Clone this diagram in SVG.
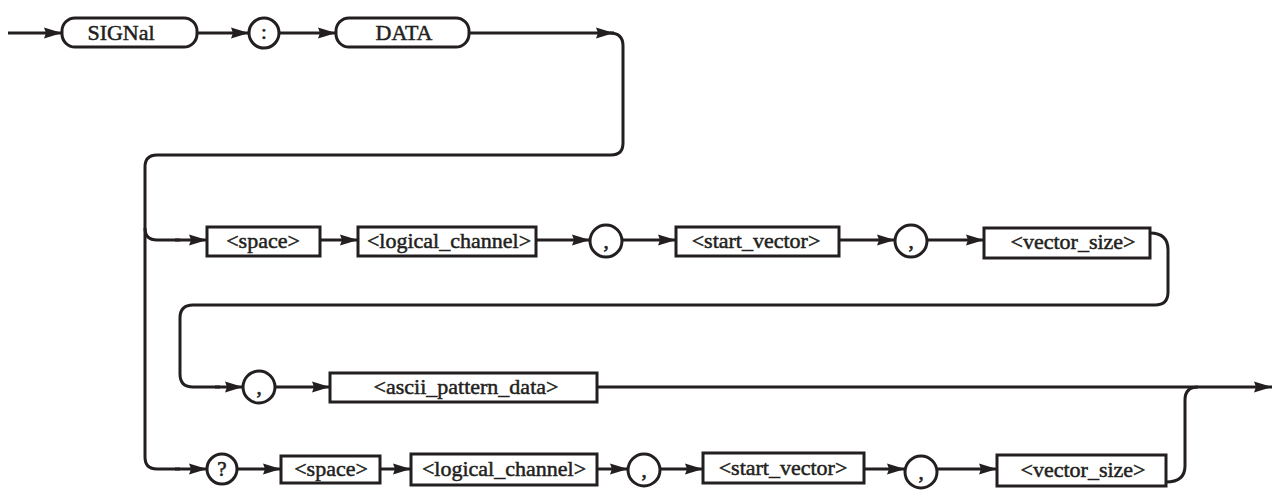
<svg xmlns="http://www.w3.org/2000/svg" width="1279" height="500" viewBox="0 0 1279 500">
<defs>
<marker id="ah" markerUnits="userSpaceOnUse" markerWidth="20" markerHeight="12" refX="18" refY="6" orient="auto">
<path d="M0,0.5 L18,6 L0,11.5 L2,6 Z" fill="#231f20"/>
</marker>
</defs>
<style>
.ln{fill:none;stroke:#231f20;stroke-width:3}
.ar{fill:none;stroke:#231f20;stroke-width:3;marker-end:url(#ah)}
.bx{fill:#fff;stroke:#231f20;stroke-width:3}
.t{font-family:"Liberation Serif",serif;font-size:22px;fill:#231f20;stroke:#231f20;stroke-width:0.5;text-anchor:middle}
.c{font-family:"Liberation Serif",serif;font-size:21px;fill:#231f20;stroke:#231f20;stroke-width:0.6;text-anchor:middle}
</style>
<rect width="1279" height="500" fill="#fff"/>
<g id="connectors">
<path class="ar" d="M8,33 H62"/>
<path class="ar" d="M197,33 H249"/>
<path class="ar" d="M279,33 H336"/>
<path class="ar" d="M469,33 H614"/>
<path class="ln" d="M610,33 Q623,33 623,46 V143 Q623,155 611,155 H157 Q145,155 145,167 V457 Q145,469 157,469 H180"/>
<path class="ar" d="M175,469 H207"/>
<path class="ln" d="M145,228 Q145,240 157,240 H180"/>
<path class="ar" d="M175,240 H207"/>
<path class="ar" d="M320,240 H358"/>
<path class="ar" d="M536,240 H590"/>
<path class="ar" d="M622,240 H676"/>
<path class="ar" d="M839,240 H895"/>
<path class="ar" d="M927,240 H984"/>
<path class="ln" d="M1150,233 Q1168,233 1168,250 V292 Q1168,305 1155,305 H193 Q180,305 180,318 V374 Q180,387 193,387 H220"/>
<path class="ar" d="M215,387 H243"/>
<path class="ar" d="M275,387 H330"/>
<path class="ar" d="M597,387 H1272"/>
<path class="ar" d="M237,469 H281"/>
<path class="ar" d="M380,469 H411"/>
<path class="ar" d="M597,469 H628"/>
<path class="ar" d="M660,469 H703"/>
<path class="ar" d="M864,469 H905"/>
<path class="ar" d="M937,469 H997"/>
<path class="ln" d="M1166,482 Q1185,482 1185,466 V400 Q1185,387 1198,387"/>
</g>
<g id="signal"><rect class="bx" x="62" y="18" width="135" height="29" rx="13"/><text class="t" x="121" y="40">SIGNal</text></g>
<g id="colon"><circle class="bx" cx="264" cy="33" r="15"/><text class="c" x="264" y="39">:</text></g>
<g id="data"><rect class="bx" x="336" y="18" width="133" height="29" rx="13"/><text class="t" x="404" y="40">DATA</text></g>
<g id="space1"><rect class="bx" x="207" y="227" width="113" height="29"/><text class="t" x="263" y="248">&lt;space&gt;</text></g>
<g id="logical1"><rect class="bx" x="358" y="227" width="178" height="29"/><text class="t" x="449" y="248">&lt;logical_channel&gt;</text></g>
<g id="comma1"><circle class="bx" cx="606" cy="241" r="16"/><text class="c" x="606" y="248">,</text></g>
<g id="start1"><rect class="bx" x="676" y="227" width="163" height="29"/><text class="t" x="756" y="248">&lt;start_vector&gt;</text></g>
<g id="comma2"><circle class="bx" cx="911" cy="241" r="16"/><text class="c" x="911" y="248">,</text></g>
<g id="vsize1"><rect class="bx" x="984" y="228" width="166" height="30"/><text class="t" x="1073" y="249">&lt;vector_size&gt;</text></g>
<g id="comma3"><circle class="bx" cx="259" cy="387" r="16"/><text class="c" x="259" y="394">,</text></g>
<g id="ascii"><rect class="bx" x="330" y="373" width="267" height="29"/><text class="t" x="466" y="394">&lt;ascii_pattern_data&gt;</text></g>
<g id="query"><circle class="bx" cx="222" cy="469" r="15"/><text class="c" x="222" y="476">?</text></g>
<g id="space2"><rect class="bx" x="281" y="456" width="99" height="27"/><text class="t" x="331" y="476">&lt;space&gt;</text></g>
<g id="logical2"><rect class="bx" x="411" y="454" width="186" height="31"/><text class="t" x="504" y="476">&lt;logical_channel&gt;</text></g>
<g id="comma4"><circle class="bx" cx="644" cy="470" r="16"/><text class="c" x="644" y="477">,</text></g>
<g id="start2"><rect class="bx" x="703" y="453" width="161" height="30"/><text class="t" x="783" y="475">&lt;start_vector&gt;</text></g>
<g id="comma5"><circle class="bx" cx="921" cy="472" r="16"/><text class="c" x="921" y="479">,</text></g>
<g id="vsize2"><rect class="bx" x="997" y="455" width="169" height="31"/><text class="t" x="1083" y="477">&lt;vector_size&gt;</text></g>
</svg>
